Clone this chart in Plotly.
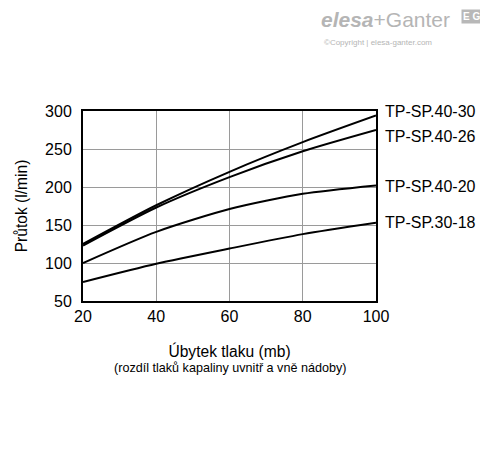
import plotly.graph_objects as go

x_vals = [20, 40, 60, 80, 100]
series_names = ["TP-SP.40-30", "TP-SP.40-26", "TP-SP.40-20", "TP-SP.30-18"]
s_40_30 = [125, 176, 220, 259, 294]
s_40_26 = [123, 173, 213, 247, 275]
s_40_20 = [100, 141, 171, 191, 202]
s_30_18 = [75, 99, 119, 138, 153]
label_y = [299, 266, 201, 153]
x_ticks = [20, 40, 60, 80, 100]
y_ticks = [50, 100, 150, 200, 250, 300]

FONT = "Liberation Sans, Arial, sans-serif"

fig = go.Figure()
for name, ys in zip(series_names, [s_40_30, s_40_26, s_40_20, s_30_18]):
    fig.add_trace(go.Scatter(x=x_vals, y=ys, mode="lines", name=name,
                             line=dict(color="black", width=2, shape="spline", smoothing=0.7),
                             showlegend=False, hoverinfo="skip"))

for name, ly in zip(series_names, label_y):
    fig.add_annotation(x=1, xref="paper", y=ly, yref="y", text=name, showarrow=False,
                       xanchor="left", yanchor="middle", xshift=7,
                       font=dict(family=FONT, size=16, color="black"))

# axis subtitle
fig.add_annotation(x=0.5, xref="paper", y=0, yref="paper", yshift=-67,
                   text="(rozdíl tlaků kapaliny uvnitř a vně nádoby)", showarrow=False,
                   xanchor="center", yanchor="middle",
                   font=dict(family=FONT, size=12.6, color="black"))

# watermark logo
fig.add_annotation(x=1.259, xref="paper", y=1.479, yref="paper",
                   text="<b><i>elesa</i></b>+Ganter", showarrow=False,
                   xanchor="right", yanchor="middle",
                   font=dict(family=FONT, size=21, color="#b5b5b5"))
fig.add_annotation(x=0.816, xref="paper", y=1.363, yref="paper",
                   text="©Copyright | elesa-ganter.com", showarrow=False,
                   xanchor="left", yanchor="middle",
                   font=dict(family=FONT, size=8, color="#b5b5b5"))
fig.add_annotation(x=1.362, xref="paper", y=1.5, yref="paper",
                   text="<b>E G</b>", showarrow=False, bgcolor="#b8b8b8",
                   xanchor="right", yanchor="middle", borderpad=1,
                   font=dict(family=FONT, size=10, color="white"))

fig.update_xaxes(range=[20, 100], tickvals=x_ticks, showgrid=True, gridcolor="#9a9a9a", gridwidth=1,
                 showline=True, linecolor="black", linewidth=2, mirror=True, ticks="",
                 zeroline=False, automargin=False,
                 tickfont=dict(family=FONT, size=16, color="black"),
                 title=dict(text="Úbytek tlaku (mb)", standoff=22,
                            font=dict(family=FONT, size=15.6, color="black")))
fig.update_yaxes(range=[50, 300], tickvals=y_ticks, showgrid=True, gridcolor="#9a9a9a", gridwidth=1,
                 showline=True, linecolor="black", linewidth=2, mirror=True, ticks="",
                 zeroline=False, automargin=False, ticklabelstandoff=6,
                 tickfont=dict(family=FONT, size=16, color="black"),
                 title=dict(text="Průtok (l/min)", standoff=14,
                            font=dict(family=FONT, size=15.6, color="black")))

# page body adds an 8px offset, so the figure is drawn 8px smaller
fig.update_layout(width=480, height=446, margin=dict(l=75, r=112, t=103, b=153),
                  paper_bgcolor="white", plot_bgcolor="white")

fig.write_html("out.html")
